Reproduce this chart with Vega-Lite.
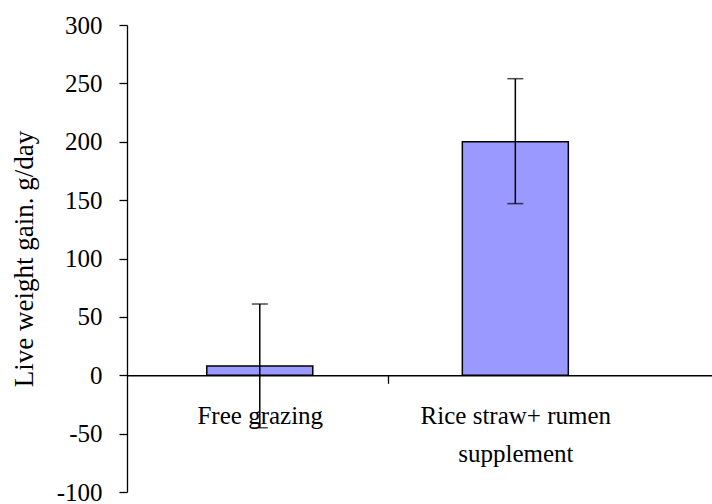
{
  "$schema": "https://vega.github.io/schema/vega-lite/v6.json",
  "width": 585,
  "height": 467,
  "autosize": "none",
  "padding": {"left": 127, "top": 25, "right": 0, "bottom": 12},
  "background": "white",
  "config": {
    "view": {"stroke": null},
    "font": "Liberation Serif",
    "axis": {
      "grid": false,
      "domainColor": "black",
      "tickColor": "black",
      "labelColor": "black",
      "titleColor": "black",
      "labelFont": "Liberation Serif",
      "titleFont": "Liberation Serif",
      "labelFontSize": 25,
      "titleFontSize": 27,
      "titleFontWeight": "normal",
      "labelLimit": 400,
      "domainWidth": 1.3,
      "tickWidth": 1.3
    }
  },
  "data": {
    "values": [
      {"pos": 0.5, "group": "Free grazing", "gain": 8, "lo": -45, "hi": 61},
      {"pos": 1.5, "group": "Rice straw+ rumen supplement", "gain": 200, "lo": 147, "hi": 254}
    ]
  },
  "encoding": {
    "x": {
      "field": "pos",
      "type": "quantitative",
      "scale": {"domain": [0, 2.25], "nice": false, "zero": false},
      "axis": {
        "title": null,
        "values": [0.5, 1, 1.5],
        "offset": -116.75,
        "tickSize": 8,
        "labelPadding": 20,
        "labelLineHeight": 38,
        "labelAngle": 0,
        "labelBaseline": "top",
        "labelFlush": false,
        "labelOverlap": false,
        "labelLimit": 400,
        "tickColor": {"condition": {"test": "datum.value == 1", "value": "black"}, "value": "transparent"},
        "labelExpr": "datum.value == 0.5 ? 'Free grazing' : datum.value == 1.5 ? ['Rice straw+ rumen', 'supplement'] : ''"
      }
    }
  },
  "layer": [
    {
      "mark": {"type": "bar", "size": 106, "fill": "#9999FF", "stroke": "black", "strokeWidth": 1.5},
      "encoding": {
        "y": {
          "field": "gain",
          "type": "quantitative",
          "scale": {"domain": [-100, 300], "nice": false},
          "axis": {
            "title": "Live weight gain. g/day",
            "values": [-100, -50, 0, 50, 100, 150, 200, 250, 300],
            "labelExpr": "datum.value < 0 ? '-' + abs(datum.value) : '' + datum.value",
            "tickSize": 8,
            "labelPadding": 17,
            "titlePadding": 18,
            "labelFlush": false,
            "labelOverlap": false
          }
        }
      }
    },
    {
      "mark": {"type": "rule", "color": "black", "strokeWidth": 1.5},
      "encoding": {
        "y": {"field": "lo", "type": "quantitative"},
        "y2": {"field": "hi"}
      }
    },
    {
      "mark": {"type": "tick", "orient": "horizontal", "size": 16, "thickness": 1.5, "color": "black"},
      "encoding": {"y": {"field": "lo", "type": "quantitative"}}
    },
    {
      "mark": {"type": "tick", "orient": "horizontal", "size": 16, "thickness": 1.5, "color": "black"},
      "encoding": {"y": {"field": "hi", "type": "quantitative"}}
    }
  ]
}
